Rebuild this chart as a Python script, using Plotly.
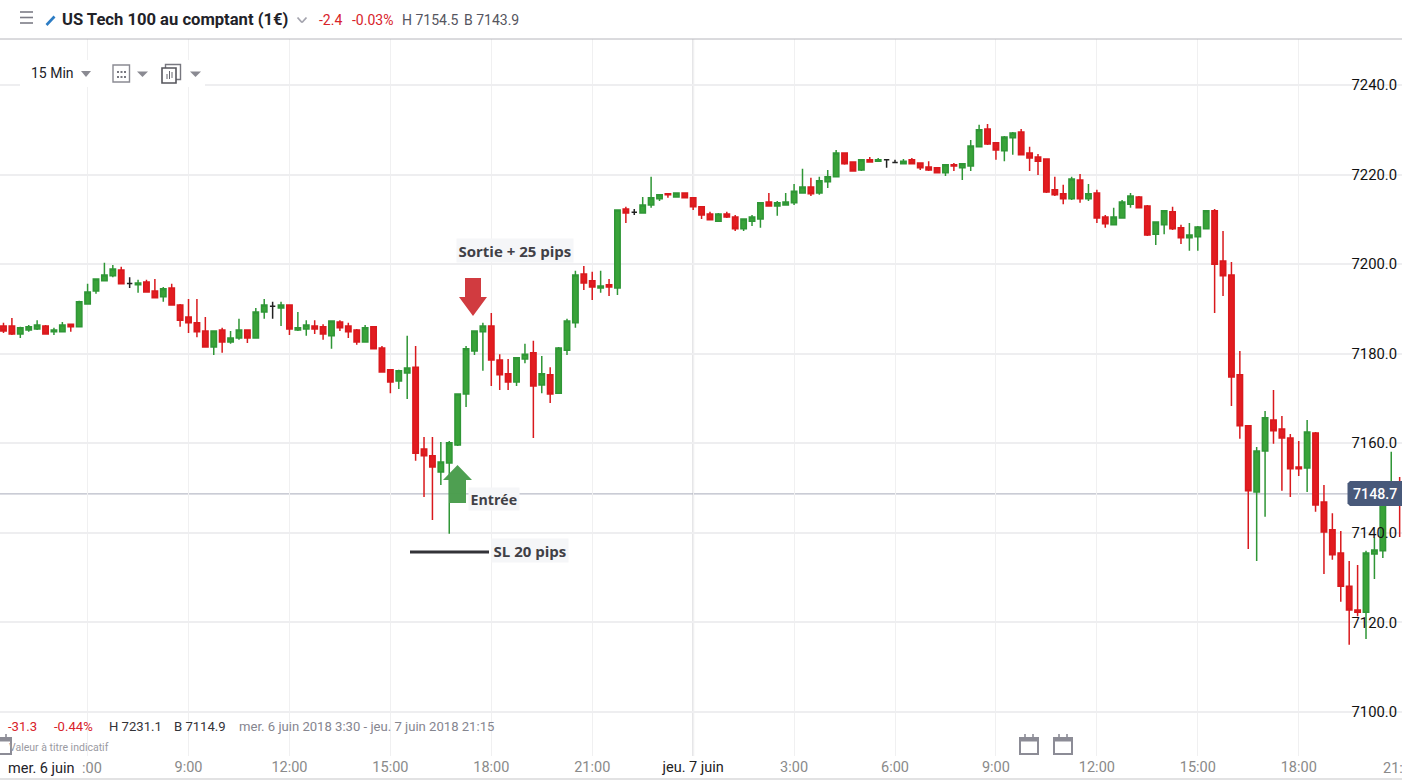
import plotly.graph_objects as go
import pandas as pd

first_bar = "2018-06-06 03:30"
bar_count = 167
opens = [7186.2,7186.2,7184.4,7185.3,7185.5,7186.2,7184.9,7184.9,7186.6,7186.0,
 7191.1,7194.0,7196.3,7197.4,7198.7,7195.7,7195.4,7196.0,7194.0,7192.7,
 7194.7,7190.9,7188.2,7186.9,7185.1,7181.5,7185.3,7182.6,7183.5,7185.3,
 7183.5,7189.3,7190.6,7190.2,7190.9,7185.3,7185.5,7186.2,7186.0,7184.0,
 7187.1,7186.2,7185.3,7182.6,7186.0,7181.3,7176.4,7173.9,7175.7,7177.0,
 7158.7,7157.2,7153.6,7155.6,7159.6,7171.0,7180.6,7184.9,7186.2,7178.6,
 7175.5,7173.7,7178.8,7180.2,7173.0,7175.3,7171.2,7180.8,7186.9,7197.8,
 7196.3,7194.7,7195.4,7194.7,7212.3,7211.6,7211.4,7213.2,7214.6,7215.7,
 7215.0,7215.9,7214.8,7212.8,7211.2,7209.6,7211.2,7210.5,7207.9,7209.6,
 7210.1,7213.9,7213.0,7213.2,7213.7,7215.9,7217.2,7215.9,7218.4,7219.5,
 7224.8,7222.8,7221.0,7223.3,7223.0,7223.3,7222.7,7222.4,7223.3,7222.6,
 7221.7,7221.5,7220.4,7222.2,7221.5,7221.9,7226.2,7230.2,7227.1,7225.3,
 7228.2,7229.5,7224.8,7223.9,7223.5,7216.6,7215.7,7214.6,7218.8,7214.6,
 7215.9,7210.5,7208.8,7210.3,7213.4,7215.0,7213.0,7206.7,7208.8,7211.7,
 7208.1,7205.9,7206.1,7207.9,7211.9,7200.7,7197.6,7175.3,7163.9,7149.1,
 7158.3,7165.2,7163.2,7161.2,7154.7,7154.5,7162.3,7146.9,7140.7,7135.5,
 7128.1,7122.8,7122.3,7135.3,7136.0,7147.5,7149.5]
highs = [7186.9,7188.0,7186.0,7186.4,7187.5,7186.4,7185.8,7187.1,7186.6,7191.8,
 7195.6,7196.7,7200.3,7199.8,7199.4,7197.1,7196.5,7196.5,7196.7,7194.9,
 7195.6,7191.1,7192.2,7192.2,7188.2,7185.1,7185.8,7185.1,7187.8,7185.3,
 7190.2,7192.2,7191.6,7191.6,7190.9,7189.3,7187.5,7187.5,7186.6,7187.5,
 7187.5,7186.9,7185.5,7186.4,7186.0,7181.7,7176.4,7176.4,7184.0,7181.7,
 7161.4,7161.4,7160.3,7160.5,7171.0,7181.7,7185.1,7186.9,7189.1,7179.9,
 7178.8,7179.1,7182.2,7182.9,7179.5,7177.0,7181.5,7187.8,7198.5,7199.6,
 7198.3,7198.5,7196.7,7212.1,7212.8,7212.3,7215.0,7219.5,7215.5,7215.7,
 7215.9,7215.9,7215.0,7213.0,7211.7,7211.4,7211.7,7211.0,7210.1,7211.0,
 7213.7,7215.9,7214.1,7215.9,7217.9,7221.3,7219.3,7219.5,7221.0,7225.5,
 7224.8,7223.0,7223.5,7223.9,7223.7,7223.5,7223.3,7223.5,7223.7,7222.6,
 7223.0,7221.5,7222.2,7222.6,7222.4,7227.7,7231.1,7231.3,7227.1,7228.6,
 7229.5,7230.2,7226.2,7224.6,7223.5,7219.5,7217.7,7219.5,7220.1,7217.9,
 7216.6,7211.0,7212.6,7214.3,7215.9,7215.2,7213.2,7209.6,7212.1,7212.8,
 7208.8,7209.2,7208.5,7211.9,7212.3,7207.4,7200.5,7180.6,7164.1,7159.2,
 7167.2,7171.9,7166.1,7162.1,7160.5,7165.2,7162.5,7150.7,7144.4,7140.4,
 7133.7,7132.8,7136.0,7138.9,7148.5,7158.1,7152.5]
lows = [7184.6,7184.2,7183.5,7184.9,7185.3,7184.4,7184.2,7184.9,7184.9,7186.0,
 7191.1,7193.4,7196.3,7197.1,7195.6,7194.7,7193.6,7193.6,7192.5,7191.6,
 7190.7,7186.0,7184.6,7183.7,7181.5,7179.7,7180.2,7182.2,7183.1,7182.4,
 7183.5,7187.8,7187.8,7186.2,7184.2,7185.1,7184.0,7184.4,7183.1,7181.1,
 7185.1,7183.5,7182.0,7182.6,7181.1,7175.9,7171.2,7172.1,7169.9,7156.1,
 7148.0,7142.9,7150.7,7139.8,7159.4,7168.1,7179.7,7176.2,7172.8,7171.9,
 7171.9,7172.8,7177.9,7161.2,7171.2,7169.0,7171.2,7179.7,7185.8,7194.2,
 7192.0,7193.6,7192.9,7193.1,7209.2,7211.0,7211.4,7212.6,7214.1,7214.8,
 7215.0,7214.8,7212.1,7210.1,7209.9,7209.6,7210.3,7207.4,7207.4,7208.5,
 7208.1,7213.0,7210.8,7213.2,7213.2,7215.9,7215.2,7215.5,7217.0,7219.5,
 7222.2,7220.8,7220.8,7222.8,7222.8,7221.5,7222.6,7222.4,7222.4,7221.0,
 7220.8,7220.4,7219.7,7220.8,7218.8,7220.8,7226.2,7226.6,7223.3,7223.0,
 7224.4,7224.4,7220.8,7219.9,7215.9,7215.2,7213.4,7214.3,7213.7,7214.1,
 7209.2,7208.1,7208.8,7210.3,7212.6,7212.6,7206.3,7204.3,7206.7,7207.6,
 7204.5,7203.0,7203.0,7207.9,7189.1,7192.9,7168.3,7161.0,7136.4,7133.7,
 7143.6,7159.9,7149.4,7148.0,7152.7,7149.1,7144.7,7130.8,7134.0,7124.6,
 7115.0,7121.4,7116.3,7129.7,7134.4,7146.5,7139.1]
closes = [7185.1,7184.4,7185.8,7186.0,7186.4,7184.4,7185.3,7186.4,7186.0,7191.6,
 7193.8,7196.7,7197.6,7198.9,7195.6,7195.7,7195.8,7193.8,7192.5,7194.5,
 7190.9,7187.5,7186.9,7184.9,7181.5,7185.1,7182.6,7183.5,7185.3,7183.5,
 7189.3,7190.9,7190.6,7190.9,7185.5,7185.8,7186.4,7185.5,7184.4,7187.3,
 7185.8,7184.9,7182.6,7185.8,7181.1,7175.9,7173.7,7176.2,7176.8,7157.8,
 7157.2,7154.7,7155.8,7160.1,7171.0,7181.1,7185.1,7186.2,7178.6,7175.3,
 7173.7,7179.1,7179.9,7172.8,7175.5,7171.0,7181.3,7187.3,7197.6,7195.8,
 7194.9,7195.1,7194.9,7212.1,7211.4,7211.6,7213.2,7214.8,7215.5,7215.5,
 7215.9,7214.8,7212.8,7211.0,7209.9,7211.2,7210.5,7207.9,7210.1,7210.5,
 7213.7,7213.0,7213.7,7213.9,7216.3,7217.2,7215.7,7218.6,7219.5,7224.8,
 7222.4,7220.8,7223.3,7222.8,7223.3,7223.3,7222.7,7223.0,7222.4,7221.5,
 7221.0,7220.4,7222.2,7221.9,7222.4,7226.4,7230.0,7226.8,7225.5,7228.4,
 7229.3,7224.4,7223.7,7223.0,7216.1,7215.5,7214.6,7219.0,7214.6,7215.7,
 7210.3,7209.0,7210.5,7213.9,7215.2,7212.6,7206.5,7209.4,7211.9,7207.9,
 7205.9,7206.5,7208.3,7211.9,7200.0,7197.4,7174.8,7163.9,7149.4,7158.3,
 7165.7,7162.8,7161.2,7154.3,7154.3,7162.5,7146.2,7140.2,7135.1,7128.1,
 7122.8,7122.3,7135.5,7136.2,7148.2,7149.9,7148.7]
neutral_bars = [15, 32, 75, 105, 106]
last_price = 7148.7

y_ticks = [7100, 7120, 7140, 7160, 7180, 7200, 7220, 7240]
x_tick_times = ["2018-06-06 06:00","2018-06-06 09:00","2018-06-06 12:00","2018-06-06 15:00","2018-06-06 18:00","2018-06-06 21:00",
 "2018-06-07 00:00","2018-06-07 03:00","2018-06-07 06:00","2018-06-07 09:00","2018-06-07 12:00","2018-06-07 15:00","2018-06-07 18:00","2018-06-07 21:00"]
x_tick_text = [" ","9:00","12:00","15:00","18:00","21:00",'<span style="color:#222">jeu. 7 juin</span>',"3:00","6:00","9:00","12:00","15:00","18:00"," "]

W, H, TOP, BOT = 1402, 784, 39, 756
GREEN, GREEN_L = "#39a339", "#2f9636"
RED, RED_L = "#e21c20", "#d9191d"
FONT = "Roboto"

def px(x): return x / W
def py(y): return (BOT - y) / (BOT - TOP)

times = pd.date_range(first_bar, periods=bar_count, freq="15min")
plain = [i for i in range(bar_count) if i not in neutral_bars]

def pick(values, idx): return [values[i] for i in idx]

fig = go.Figure()
fig.add_trace(go.Candlestick(
    x=pick(times, plain), open=pick(opens, plain), high=pick(highs, plain), low=pick(lows, plain), close=pick(closes, plain),
    increasing=dict(line=dict(color=GREEN_L, width=1.5), fillcolor=GREEN),
    decreasing=dict(line=dict(color=RED_L, width=1.5), fillcolor=RED),
    whiskerwidth=0, showlegend=False, hoverinfo="skip"))
fig.add_trace(go.Candlestick(
    x=pick(times, neutral_bars), open=pick(opens, neutral_bars), high=pick(highs, neutral_bars), low=pick(lows, neutral_bars), close=pick(closes, neutral_bars),
    increasing=dict(line=dict(color="#222222", width=1.5), fillcolor="#222222"),
    decreasing=dict(line=dict(color="#222222", width=1.5), fillcolor="#222222"),
    whiskerwidth=0, showlegend=False, hoverinfo="skip"))

shapes = []
def line(x0, y0, x1, y1, color, width=1, layer="above"):
    shapes.append(dict(type="line", xref="paper", yref="paper", x0=px(x0), y0=py(y0), x1=px(x1), y1=py(y1),
                       line=dict(color=color, width=width), layer=layer))
def rect(x0, y0, x1, y1, fill, border=None, width=0, layer="above"):
    shapes.append(dict(type="rect", xref="paper", yref="paper", x0=px(x0), y0=py(y0), x1=px(x1), y1=py(y1),
                       fillcolor=fill, line=dict(color=border or fill, width=width), layer=layer))
def poly(points, fill, opacity=1, layer="above"):
    path = "M " + " L ".join(f"{px(x):.5f},{py(y):.5f}" for x, y in points) + " Z"
    shapes.append(dict(type="path", xref="paper", yref="paper", path=path, fillcolor=fill, opacity=opacity,
                       line=dict(width=0), layer=layer))

# day separator and last price rule
shapes.append(dict(type="line", xref="x", yref="paper", x0="2018-06-07 00:00", x1="2018-06-07 00:00", y0=0, y1=1,
                   line=dict(color="#e2e2e4", width=2), layer="below"))
shapes.append(dict(type="line", xref="paper", yref="y", x0=0, x1=1, y0=last_price, y1=last_price,
                   line=dict(color="#a9acba", width=1), layer="below"))

# header band
rect(0, 0, W, 39, "#ffffff")
line(0, 39, W, 39, "#b6b6bc", 1)
for yy in (12, 17.5, 23):
    line(20, yy, 33, yy, "#7c7c86", 1.6)
line(46.5, 25, 54.5, 16.5, "#2c7cc4", 2.6)
line(297.5, 17.5, 302, 22.5, "#a4a4ae", 1.8)
line(302, 22.5, 306.5, 17.5, "#a4a4ae", 1.8)

# toolbar
rect(20, 60, 205, 87, "#ffffff")
poly([(81, 71), (91, 71), (86, 77)], "#8a8a92")
rect(113, 65, 129.5, 82, "#ffffff", "#8a8a92", 1.4)
for dx in (118, 121.5, 125):
    for dy in (72, 77):
        rect(dx - 1, dy - 1, dx + 1, dy + 1, "#77777f")
poly([(137, 71.5), (148, 71.5), (142.5, 77)], "#8a8a92")
rect(165.5, 64.5, 180.5, 79.5, "#ffffff", "#77777f", 1.4)
rect(162, 68, 176, 83, "#ffffff", "#55555c", 1.6)
for xx, y0, y1 in ((167, 74, 79), (169.5, 71, 79), (172, 72, 78)):
    line(xx, y0, xx, y1, "#66666e", 1)
poly([(190, 71.5), (201, 71.5), (195.5, 77)], "#8a8a92")

# trade markers
poly([(465, 278), (481, 278), (481, 297), (487, 297), (473, 316), (459, 297), (465, 297)], "#cf3036", 0.95)
poly([(457.5, 465), (472, 480), (466, 480), (466, 503), (449, 503), (449, 480), (443, 480)], "#4a9d4e", 0.98)
line(410, 552, 489, 552, "#333338", 3.2)

# calendars
def calendar(x0, x1):
    rect(x0, 738, x1, 754, "#ffffff", "#8c8c96", 2)
    rect(x0, 737, x1, 741.5, "#8c8c96")
    line(x0 + 5, 734, x0 + 5, 739, "#8c8c96", 1.6)
    line(x1 - 5, 734, x1 - 5, 739, "#8c8c96", 1.6)
calendar(1020, 1038)
calendar(1054, 1072)
calendar(-7, 11)

# last price tag
poly([(1350, 481), (1402, 481), (1402, 506), (1350, 506), (1347.5, 503.5), (1347.5, 483.5)], "#48597a")

# bottom rule
line(0, 779, W, 779, "#d8d8da", 1.5)

def text(x, y, s, size=13, color="#333", weight=400, anchor="left", bg=None, family=FONT, pad=0):
    return dict(xref="paper", yref="paper", x=px(x), y=py(y), text=s, showarrow=False, xanchor=anchor, yanchor="middle",
                font=dict(family=family, size=size, color=color, weight=weight), bgcolor=bg, borderpad=pad, align="left")

annotations = [
    text(60.5, 20, "US Tech 100 au comptant (1€)", 16.6, "#222228", 700),
    text(318, 20, "-2.4", 14, "#d8232a"),
    text(351, 20, "-0.03%", 14, "#d8232a"),
    text(400.5, 20, "H 7154.5", 14, "#555560"),
    text(463, 20, "B 7143.9", 14, "#555560"),
    text(30, 73, "15 Min", 14, "#222228"),
    text(456, 250.5, "Sortie + 25 pips", 15, "#404046", 700, bg="#f5f6f8", family="Open Sans", pad=1.5),
    text(468, 498.5, "Entrée", 14.2, "#404046", 700, bg="#f5f6f8", family="Open Sans", pad=1.5),
    text(491, 550.5, "SL 20 pips", 15, "#404046", 700, bg="#f5f6f8", family="Open Sans", pad=1.5),
    text(7, 726, "-31.3", 13.1, "#d8232a"),
    text(53, 726, "-0.44%", 13.1, "#d8232a"),
    text(108, 726, "H 7231.1", 13.1, "#333338"),
    text(172.5, 726, "B 7114.9", 13.1, "#333338"),
    text(237.5, 726, "mer. 6 juin 2018 3:30 - jeu. 7 juin 2018 21:15", 13.1, "#85858f"),
    text(8, 747, "Valeur à titre indicatif", 10.5, "#9a9aa2"),
    text(1352, 493.5, "7148.7", 14.2, "#ffffff", 500),
    text(7, 768, "mer. 6 juin", 14.5, "#222228"),
    text(81, 768, ":00", 14.5, "#8a8a8a"),
    text(1382, 768, "21:", 14.5, "#8a8a8a"),
]

fig.update_layout(
    width=W, height=H, margin=dict(l=0, r=0, t=TOP, b=H - BOT), paper_bgcolor="white", plot_bgcolor="white",
    boxgap=0.08, showlegend=False, shapes=shapes, annotations=annotations,
    font=dict(family=FONT, size=14),
    xaxis=dict(type="date", range=["2018-06-06 03:23:47", "2018-06-07 21:04:11"], rangeslider=dict(visible=False),
               tickmode="array", tickvals=x_tick_times, ticktext=x_tick_text, showgrid=True, gridcolor="#f0f0f1", gridwidth=1,
               ticks="", tickfont=dict(color="#8a8a8a", size=14.5), zeroline=False, showline=False),
    yaxis=dict(side="right", ticklabelposition="inside", ticklabelstandoff=2, range=[7090.18, 7250.27], tickmode="array", tickvals=y_ticks,
               ticktext=[f"{v:.1f}" for v in y_ticks], showgrid=True, gridcolor="#eeeef0", gridwidth=1.5,
               ticks="", tickfont=dict(color="#111111", size=14.8), zeroline=False, showline=False),
)
fig.write_html("out.html", config=dict(displayModeBar=False),
               post_script="document.body.style.margin='0';document.body.style.overflow='hidden';")
